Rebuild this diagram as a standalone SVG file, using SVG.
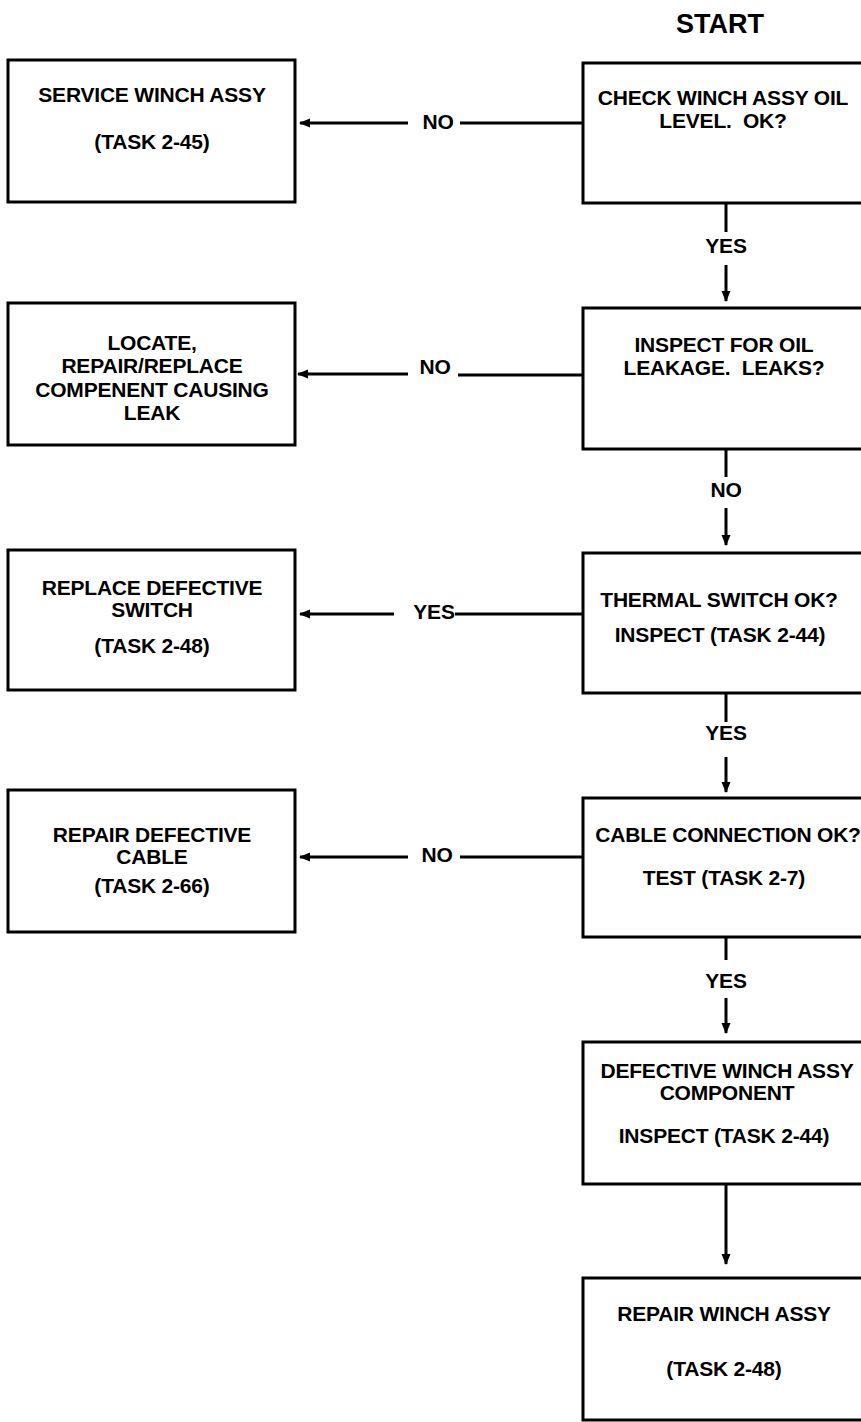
<svg xmlns="http://www.w3.org/2000/svg" width="861" height="1422" viewBox="0 0 861 1422">
<style>
.box{fill:#fff;stroke:#000;stroke-width:3}
.t{font-family:"Liberation Sans",Arial,sans-serif;font-weight:bold;font-size:21px;fill:#000;text-anchor:middle;letter-spacing:-0.2px;white-space:pre}
.title{font-size:27px;letter-spacing:0}
.c{fill:none;stroke:#000;stroke-width:3}
</style>
<defs>
<marker id="ah" markerUnits="userSpaceOnUse" markerWidth="12" markerHeight="10" refX="10" refY="4.5" orient="auto">
<path d="M0,0 L11,4.5 L0,9 z" fill="#000"/>
</marker>
</defs>
<rect width="861" height="1422" fill="#fff"/>
<text class="t title" x="720" y="33">START</text>

<g id="r1"><rect class="box" x="583" y="63" width="300" height="140"/>
<text class="t" x="723" y="105">CHECK WINCH ASSY OIL</text>
<text class="t" x="723" y="128" xml:space="preserve">LEVEL.  OK?</text></g>
<g id="r2"><rect class="box" x="583" y="308" width="300" height="141"/>
<text class="t" x="724" y="352">INSPECT FOR OIL</text>
<text class="t" x="724" y="375" xml:space="preserve">LEAKAGE.  LEAKS?</text></g>
<g id="r3"><rect class="box" x="583" y="553" width="300" height="140"/>
<text class="t" x="719" y="607">THERMAL SWITCH OK?</text>
<text class="t" x="720" y="642">INSPECT (TASK 2-44)</text></g>
<g id="r4"><rect class="box" x="583" y="798" width="300" height="139"/>
<text class="t" x="728" y="842">CABLE CONNECTION OK?</text>
<text class="t" x="724" y="885">TEST (TASK 2-7)</text></g>
<g id="r5"><rect class="box" x="583" y="1042" width="300" height="142"/>
<text class="t" x="727" y="1078">DEFECTIVE WINCH ASSY</text>
<text class="t" x="727" y="1100">COMPONENT</text>
<text class="t" x="724" y="1143">INSPECT (TASK 2-44)</text></g>
<g id="r6"><rect class="box" x="583" y="1278" width="300" height="142"/>
<text class="t" x="724" y="1321">REPAIR WINCH ASSY</text>
<text class="t" x="724" y="1376">(TASK 2-48)</text></g>

<g id="l1"><rect class="box" x="8" y="60" width="287" height="142"/>
<text class="t" x="152" y="102">SERVICE WINCH ASSY</text>
<text class="t" x="152" y="149">(TASK 2-45)</text></g>
<g id="l2"><rect class="box" x="8" y="303" width="287" height="142"/>
<text class="t" x="152" y="350">LOCATE,</text>
<text class="t" x="152" y="373">REPAIR/REPLACE</text>
<text class="t" x="152" y="397">COMPENENT CAUSING</text>
<text class="t" x="152" y="420">LEAK</text></g>
<g id="l3"><rect class="box" x="8" y="550" width="287" height="140"/>
<text class="t" x="152" y="595">REPLACE DEFECTIVE</text>
<text class="t" x="152" y="617">SWITCH</text>
<text class="t" x="152" y="653">(TASK 2-48)</text></g>
<g id="l4"><rect class="box" x="8" y="790" width="287" height="142"/>
<text class="t" x="152" y="842">REPAIR DEFECTIVE</text>
<text class="t" x="152" y="864">CABLE</text>
<text class="t" x="152" y="893">(TASK 2-66)</text></g>

<g id="connectors">
<line class="c" x1="583" y1="123" x2="460" y2="123"/>
<line class="c" x1="408" y1="123" x2="300" y2="123" marker-end="url(#ah)"/>
<text class="t" x="438" y="129">NO</text>
<line class="c" x1="583" y1="375" x2="458" y2="375"/>
<line class="c" x1="408" y1="374" x2="298" y2="374" marker-end="url(#ah)"/>
<text class="t" x="435" y="374">NO</text>
<line class="c" x1="583" y1="614" x2="455" y2="614"/>
<line class="c" x1="394" y1="614" x2="300" y2="614" marker-end="url(#ah)"/>
<text class="t" x="434" y="619">YES</text>
<line class="c" x1="583" y1="857" x2="460" y2="857"/>
<line class="c" x1="408" y1="857" x2="300" y2="857" marker-end="url(#ah)"/>
<text class="t" x="437" y="862">NO</text>

<line class="c" x1="726" y1="203" x2="726" y2="232"/>
<text class="t" x="726" y="253">YES</text>
<line class="c" x1="726" y1="265" x2="726" y2="301" marker-end="url(#ah)"/>
<line class="c" x1="726" y1="449" x2="726" y2="477"/>
<text class="t" x="726" y="497">NO</text>
<line class="c" x1="726" y1="508" x2="726" y2="545" marker-end="url(#ah)"/>
<line class="c" x1="726" y1="693" x2="726" y2="722"/>
<text class="t" x="726" y="740">YES</text>
<line class="c" x1="726" y1="757" x2="726" y2="792" marker-end="url(#ah)"/>
<line class="c" x1="726" y1="937" x2="726" y2="960"/>
<text class="t" x="726" y="988">YES</text>
<line class="c" x1="726" y1="998" x2="726" y2="1033" marker-end="url(#ah)"/>
<line class="c" x1="726" y1="1184" x2="726" y2="1264" marker-end="url(#ah)"/>
</g>
</svg>
